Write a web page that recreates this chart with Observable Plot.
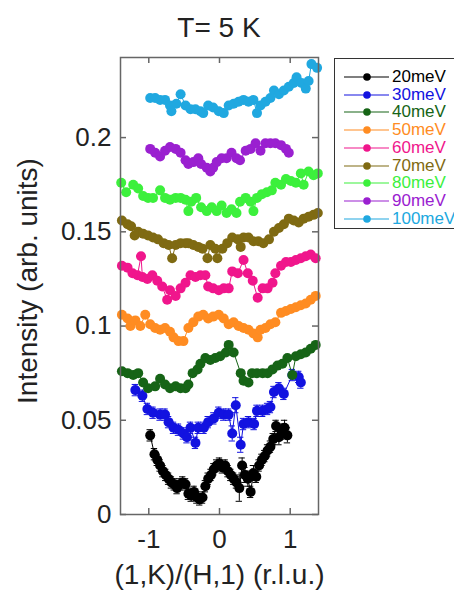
<!DOCTYPE html>
<html><head><meta charset="utf-8">
<script src="https://cdn.jsdelivr.net/npm/d3@7"></script>
<script src="https://cdn.jsdelivr.net/npm/@observablehq/plot@0.6"></script>
<style>
body{margin:0;background:#fff;font-family:"Liberation Sans",Arial,sans-serif;overflow:hidden}
#wrap{position:relative;width:454px;height:594px;overflow:hidden;background:#fff}
#title{position:absolute;left:99px;width:240px;top:11px;text-align:center;font-size:28px;line-height:34px;color:#222}
#ylabel{position:absolute;left:28px;top:281px;width:320px;height:32px;margin-left:-160px;margin-top:-16px;text-align:center;font-size:28px;line-height:32px;color:#222;transform:rotate(-90deg);white-space:nowrap}
#chart{position:absolute;left:0;top:50px}
#legend{position:absolute;left:334px;top:58px;width:130px;height:171px;border:1px solid #333;box-sizing:border-box;background:#fff}
.row{position:absolute;left:0;width:130px;height:18px}
.row span{position:absolute;left:57px;top:0;font-size:17px;line-height:18px}
.row svg{position:absolute;left:0;top:0}
</style>
</head><body>
<div id="wrap">
  <div id="title">T= 5 K</div>
  <div id="chart"></div>
  <div id="ylabel">Intensity (arb. units)</div>
  <div id="legend"></div>
</div>
<script>
const names = ["20meV","30meV","40meV","50meV","60meV","70meV","80meV","90meV","100meV"];
const colors = ["#000000","#1212e0","#166416","#ff8c22","#f0168c","#7f6a12","#3cf03c","#9a20d0","#20a8e0"];
const xTicks = [-1, 0, 1];
const yTicks = [0, 0.05, 0.1, 0.15, 0.2];

const x20 = [-0.98,-0.92,-0.88,-0.84,-0.80,-0.76,-0.72,-0.68,-0.64,-0.60,-0.56,-0.52,-0.48,-0.44,-0.40,-0.36,-0.32,-0.28,-0.24,-0.20,-0.16,-0.12,-0.08,-0.04,0.00,0.04,0.08,0.12,0.16,0.20,0.24,0.28,0.32,0.36,0.40,0.44,0.48,0.52,0.56,0.60,0.64,0.68,0.72,0.76,0.80,0.84,0.88,0.92,0.96];
const y20 = [0.042,0.032,0.029,0.026,0.023,0.021,0.019,0.017,0.016,0.014,0.016,0.017,0.016,0.011,0.010,0.012,0.009,0.008,0.009,0.015,0.019,0.021,0.024,0.026,0.027,0.025,0.026,0.023,0.021,0.019,0.017,0.014,0.026,0.021,0.019,0.012,0.022,0.020,0.026,0.029,0.031,0.034,0.036,0.040,0.047,0.041,0.044,0.046,0.042];
const e20 = [0.003,0.003,0.003,0.003,0.003,0.003,0.003,0.003,0.003,0.003,0.003,0.003,0.003,0.003,0.003,0.003,0.003,0.003,0.003,0.003,0.003,0.003,0.003,0.003,0.003,0.003,0.003,0.003,0.003,0.003,0.003,0.007,0.004,0.004,0.004,0.003,0.004,0.003,0.003,0.003,0.003,0.003,0.003,0.003,0.003,0.004,0.004,0.004,0.004];

const x30 = [-1.19,-1.09,-1.02,-0.94,-0.84,-0.77,-0.72,-0.65,-0.58,-0.51,-0.46,-0.41,-0.34,-0.30,-0.22,-0.16,-0.08,-0.01,0.06,0.13,0.18,0.23,0.30,0.34,0.41,0.49,0.53,0.61,0.68,0.72,0.77,0.84,0.91,1.03,1.12,1.15];
const y30 = [0.066,0.063,0.056,0.054,0.053,0.053,0.049,0.046,0.045,0.043,0.041,0.046,0.038,0.046,0.046,0.049,0.051,0.054,0.053,0.053,0.043,0.058,0.037,0.048,0.049,0.048,0.055,0.055,0.056,0.057,0.065,0.067,0.064,0.074,0.073,0.070];
const e30 = [0.003,0.003,0.003,0.003,0.003,0.003,0.003,0.003,0.003,0.003,0.003,0.003,0.003,0.003,0.003,0.003,0.003,0.003,0.003,0.003,0.004,0.004,0.004,0.003,0.003,0.003,0.003,0.003,0.003,0.003,0.003,0.003,0.003,0.003,0.003,0.003];

const x40 = [-1.38,-1.30,-1.22,-1.15,-1.08,-1.01,-0.91,-0.84,-0.77,-0.70,-0.62,-0.55,-0.48,-0.44,-0.38,-0.31,-0.27,-0.20,-0.13,-0.06,0.01,0.09,0.13,0.20,0.30,0.34,0.41,0.46,0.53,0.61,0.68,0.75,0.82,0.89,0.96,1.03,1.08,1.15,1.22,1.29,1.36];
const y40 = [0.076,0.075,0.074,0.075,0.070,0.067,0.068,0.072,0.069,0.067,0.068,0.067,0.067,0.069,0.075,0.077,0.080,0.083,0.082,0.083,0.084,0.086,0.090,0.086,0.075,0.071,0.070,0.075,0.075,0.075,0.075,0.077,0.079,0.080,0.083,0.074,0.084,0.085,0.086,0.088,0.090];

const x50 = [-1.38,-1.30,-1.26,-1.19,-1.12,-1.05,-0.98,-0.91,-0.84,-0.77,-0.70,-0.65,-0.58,-0.51,-0.44,-0.37,-0.30,-0.23,-0.16,-0.09,-0.01,0.06,0.13,0.20,0.27,0.34,0.41,0.48,0.54,0.58,0.65,0.72,0.79,0.87,0.94,1.01,1.08,1.15,1.22,1.29,1.36];
const y50 = [0.106,0.104,0.100,0.103,0.100,0.106,0.101,0.099,0.098,0.099,0.097,0.094,0.092,0.092,0.099,0.102,0.105,0.106,0.104,0.105,0.106,0.104,0.101,0.102,0.100,0.099,0.098,0.096,0.094,0.098,0.099,0.101,0.102,0.107,0.108,0.109,0.110,0.111,0.112,0.114,0.116];

const x60 = [-1.38,-1.30,-1.23,-1.16,-1.11,-1.09,-1.02,-0.95,-0.88,-0.81,-0.74,-0.70,-0.62,-0.55,-0.48,-0.41,-0.34,-0.27,-0.20,-0.16,-0.09,-0.01,0.06,0.13,0.18,0.26,0.34,0.40,0.47,0.54,0.61,0.68,0.75,0.79,0.87,0.94,1.01,1.08,1.15,1.22,1.29,1.36];
const y60 = [0.132,0.131,0.128,0.127,0.137,0.126,0.125,0.127,0.124,0.121,0.114,0.119,0.116,0.120,0.123,0.127,0.126,0.127,0.127,0.121,0.120,0.119,0.120,0.120,0.129,0.128,0.135,0.128,0.124,0.115,0.120,0.120,0.123,0.128,0.132,0.134,0.134,0.135,0.136,0.137,0.138,0.136];

const x70 = [-1.38,-1.30,-1.25,-1.20,-1.15,-1.08,-1.01,-0.94,-0.87,-0.79,-0.72,-0.67,-0.62,-0.55,-0.48,-0.44,-0.37,-0.30,-0.24,-0.17,-0.13,-0.06,-0.03,0.04,0.11,0.18,0.26,0.30,0.34,0.41,0.48,0.55,0.62,0.70,0.77,0.84,0.91,0.98,1.05,1.12,1.19,1.26,1.33,1.39];
const y70 = [0.156,0.154,0.153,0.148,0.150,0.149,0.148,0.147,0.146,0.144,0.143,0.136,0.143,0.144,0.144,0.144,0.143,0.142,0.141,0.136,0.143,0.141,0.136,0.141,0.144,0.147,0.146,0.142,0.147,0.147,0.145,0.145,0.144,0.146,0.150,0.152,0.154,0.157,0.156,0.155,0.157,0.158,0.159,0.160];

const x80 = [-1.39,-1.32,-1.22,-1.15,-1.08,-1.01,-0.94,-0.84,-0.77,-0.70,-0.62,-0.55,-0.48,-0.44,-0.40,-0.33,-0.26,-0.18,-0.11,-0.04,0.03,0.10,0.17,0.24,0.29,0.37,0.44,0.48,0.53,0.60,0.67,0.74,0.79,0.87,0.94,1.01,1.08,1.15,1.19,1.26,1.33,1.39];
const y80 = [0.176,0.171,0.175,0.173,0.169,0.168,0.168,0.172,0.168,0.167,0.168,0.168,0.167,0.161,0.166,0.168,0.163,0.161,0.163,0.161,0.164,0.160,0.162,0.160,0.166,0.168,0.166,0.161,0.168,0.170,0.171,0.172,0.176,0.175,0.178,0.177,0.176,0.181,0.175,0.182,0.180,0.181];

const x90 = [-0.98,-0.91,-0.84,-0.77,-0.70,-0.62,-0.55,-0.48,-0.44,-0.37,-0.30,-0.26,-0.18,-0.13,-0.09,-0.04,0.03,0.10,0.17,0.24,0.29,0.37,0.44,0.51,0.58,0.65,0.72,0.79,0.87,0.94,0.98];
const y90 = [0.194,0.192,0.190,0.193,0.195,0.194,0.192,0.188,0.186,0.187,0.189,0.186,0.184,0.182,0.184,0.187,0.189,0.189,0.192,0.189,0.188,0.193,0.194,0.197,0.193,0.197,0.197,0.197,0.196,0.194,0.192];

const x100 = [-0.98,-0.91,-0.84,-0.77,-0.70,-0.68,-0.61,-0.55,-0.48,-0.41,-0.34,-0.27,-0.23,-0.16,-0.09,-0.01,0.06,0.13,0.20,0.27,0.34,0.41,0.48,0.53,0.58,0.65,0.72,0.77,0.84,0.91,0.98,1.05,1.09,1.16,1.22,1.26,1.30,1.38];
const y100 = [0.221,0.221,0.220,0.220,0.217,0.214,0.218,0.223,0.217,0.215,0.215,0.214,0.213,0.217,0.216,0.214,0.213,0.217,0.218,0.219,0.220,0.219,0.220,0.213,0.217,0.219,0.221,0.225,0.223,0.225,0.227,0.229,0.232,0.229,0.226,0.230,0.239,0.237];

const seriesX = [x20,x30,x40,x50,x60,x70,x80,x90,x100];
const seriesY = [y20,y30,y40,y50,y60,y70,y80,y90,y100];
const seriesE = [e20,e30,null,null,null,null,null,null,null];

const rows = [];
const errRows = [];
names.forEach((s, k) => {
  seriesX[k].forEach((x, i) => {
    const d = {s, x, y: seriesY[k][i], e: seriesE[k] ? seriesE[k][i] : 0};
    rows.push(d);
    if (d.e) errRows.push(d);
  });
});

const W = 454, H = 544, mt = 7, mb = 80, ml = 120, mr = 136;
const fw = W - ml - mr, fh = H - mt - mb;
const frameColor = "#666";

const chart = Plot.plot({
  width: W, height: H, marginTop: mt, marginBottom: mb, marginLeft: ml, marginRight: mr,
  style: {fontFamily: "'Liberation Sans', Arial, sans-serif", background: "transparent", color: "#222"},
  x: {domain: [-1.4, 1.4]},
  y: {domain: [0, 0.2425]},
  color: {domain: names, range: colors},
  marks: [
    Plot.axisX({ticks: xTicks, tickSize: 0, tickPadding: 15, fontSize: 26, tickFormat: d => String(d), label: null}),
    Plot.axisY({ticks: yTicks, tickSize: 0, tickPadding: 9, fontSize: 26, tickFormat: d => String(d), label: null}),
    Plot.tickX(xTicks, {x: d => d, insetTop: fh - 6, stroke: frameColor, strokeWidth: 1.5}),
    Plot.tickX(xTicks, {x: d => d, insetBottom: fh - 6, stroke: frameColor, strokeWidth: 1.5}),
    Plot.tickY(yTicks, {y: d => d, insetRight: fw - 6, stroke: frameColor, strokeWidth: 1.5}),
    Plot.tickY(yTicks, {y: d => d, insetLeft: fw - 6, stroke: frameColor, strokeWidth: 1.5}),
    Plot.ruleX(errRows, {x: "x", y1: d => d.y - d.e, y2: d => d.y + d.e, stroke: "s", strokeWidth: 1}),
    Plot.ruleY(errRows, {y: d => d.y + d.e, x1: d => d.x - 0.045, x2: d => d.x + 0.045, stroke: "s", strokeWidth: 1}),
    Plot.ruleY(errRows, {y: d => d.y - d.e, x1: d => d.x - 0.045, x2: d => d.x + 0.045, stroke: "s", strokeWidth: 1}),
    Plot.line(rows, {x: "x", y: "y", z: "s", stroke: "s", strokeWidth: 1}),
    Plot.dot(rows, {x: "x", y: "y", fill: "s", r: 5}),
    Plot.frame({stroke: frameColor, strokeWidth: 1.5}),
    Plot.text(["(1,K)/(H,1) (r.l.u.)"], {text: d => d, frameAnchor: "bottom", dy: 69, fontSize: 28, fill: "#222"})
  ]
});
document.getElementById("chart").appendChild(chart);

const legend = document.getElementById("legend");
names.forEach((n, i) => {
  const row = document.createElement("div");
  row.className = "row";
  row.style.top = (76 + 17.7 * i - 58 - 9) + "px";
  row.innerHTML = `<svg width="56" height="18"><line x1="9" x2="54" y1="9" y2="9" stroke="${colors[i]}" stroke-width="1.2"/><circle cx="32" cy="9" r="3.8" fill="${colors[i]}"/></svg><span style="color:${colors[i]}">${n}</span>`;
  legend.appendChild(row);
});
</script>
</body></html>
